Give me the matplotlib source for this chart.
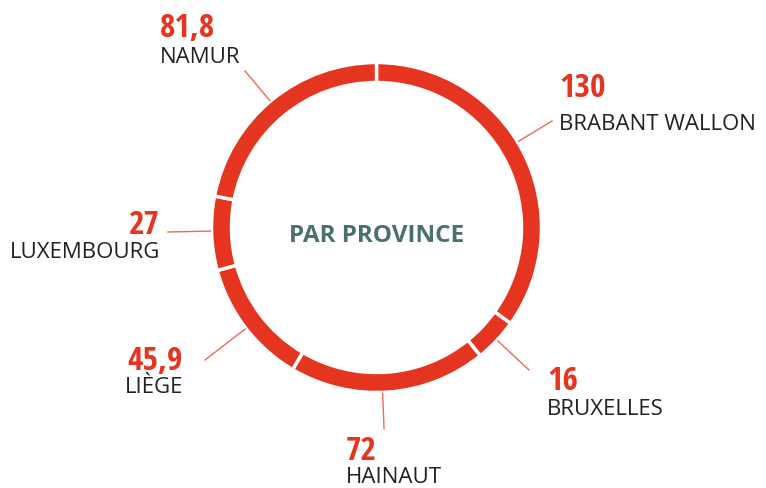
import numpy as np
import matplotlib
matplotlib.use("Agg")
import matplotlib.pyplot as plt

provinces = ["BRABANT WALLON", "BRUXELLES", "HAINAUT", "LIÈGE", "LUXEMBOURG", "NAMUR"]
values = [130, 16, 72, 45.9, 27, 81.8]
value_labels = ["130", "16", "72", "45,9", "27", "81,8"]

RED = "#E5341F"
W, H = 766, 489

# label layout in pixel coords (x, number baseline, name baseline, align, leader end)
layout = {
    "BRABANT WALLON": (559, 97, 130, "left", (552, 122)),
    "BRUXELLES": (547, 390, 415, "left", (529, 371)),
    "HAINAUT": (346, 460, 483, "left", (384, 430)),
    "LIÈGE": (183, 370, 393, "right", (205, 361)),
    "LUXEMBOURG": (160, 234, 258, "right", (168, 233)),
    "NAMUR": (160, 37, 63, "left", (245, 72)),
}

cx, cy = 376.5, 228.5
r_out = 165

fig = plt.figure(figsize=(W / 100, H / 100), dpi=100)
ax = fig.add_axes([0, 0, 1, 1])

wedges, _ = ax.pie(values, radius=r_out, center=(cx, H - cy), startangle=90,
                   counterclock=False, colors=[RED] * len(values),
                   wedgeprops=dict(width=20, edgecolor="white", linewidth=2.5))

for w, name, lab in zip(wedges, provinces, value_labels):
    tx, nb, lb, ha, (ex, ey) = layout[name]
    # leader goes radially from the ring out to the label
    ang = np.arctan2((H - ey) - (H - cy), ex - cx)
    x0 = cx + (r_out + 1) * np.cos(ang)
    y0 = (H - cy) + (r_out + 1) * np.sin(ang)
    ax.plot([x0, ex], [y0, H - ey], color="#EE6A55", lw=1)
    ax.text(tx, H - nb, lab, ha=ha, va="baseline", color=RED,
            fontsize=24, fontweight="bold", family="Open Sans Condensed")
    ax.text(tx, H - lb, name, ha=ha, va="baseline", color="#222222",
            fontsize=16, family="Open Sans")

ax.text(cx, H - 242, "PAR PROVINCE", ha="center", va="baseline", color="#4A716C",
        fontsize=17.5, fontweight="bold", family="Open Sans")

ax.set_xlim(0, W)
ax.set_ylim(0, H)
ax.set_aspect("equal")
ax.axis("off")

fig.savefig("out.png", dpi=100, facecolor="white")
